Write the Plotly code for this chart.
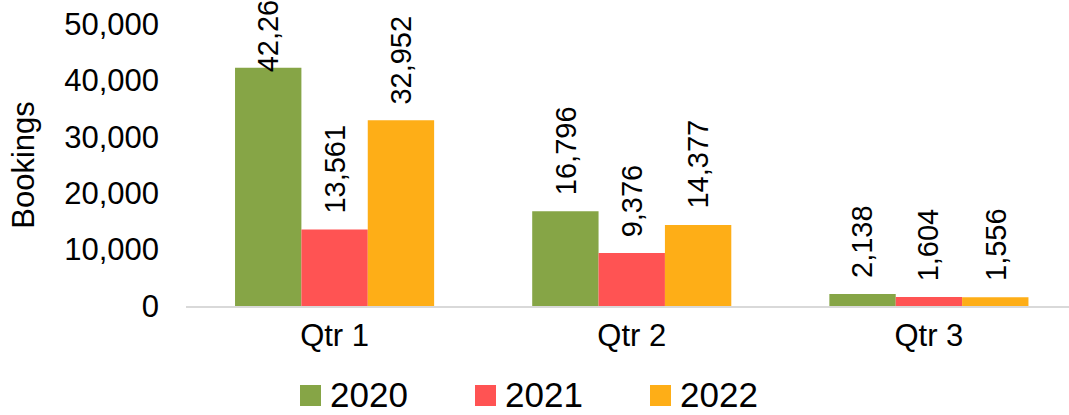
import plotly.graph_objects as go

categories = ["Qtr 1", "Qtr 2", "Qtr 3"]
series_names = ["2020", "2021", "2022"]
values_2020 = [42260, 16796, 2138]
values_2021 = [13561, 9376, 1604]
values_2022 = [32952, 14377, 1556]
y_ticks = [0, 10000, 20000, 30000, 40000, 50000]
y_tick_labels = ["0", "10,000", "20,000", "30,000", "40,000", "50,000"]

colors = ["#86A546", "#FF5353", "#FEAE17"]
all_values = [values_2020, values_2021, values_2022]

FONT = "Liberation Sans, Arial, sans-serif"
L, R, T, B = 186, 0, 24, 109
W, H = 1069, 415
BARGAP = 0.33

fig = go.Figure()
for name, vals, col in zip(series_names, all_values, colors):
    fig.add_trace(go.Bar(
        x=list(range(len(categories))), y=vals, name=name,
        marker=dict(color=col, line=dict(width=0)),
        showlegend=False,
    ))

# data labels
nseries = len(series_names)
bw = (1 - BARGAP) / nseries
annotations = []
for j, vals in enumerate(all_values):
    for i, v in enumerate(vals):
        shift = 14
        if i == 0 and j == 0:
            shift = -7
        annotations.append(dict(
            x=i + (j - (nseries - 1) / 2) * bw, y=v, xref="x", yref="y",
            text=f"{v:,}", textangle=-90, showarrow=False,
            xanchor="center", yanchor="bottom", yshift=shift,
            font=dict(family=FONT, size=29, color="#000000"),
        ))

# custom legend (large squares)
shapes = []
for k, (name, col) in enumerate(zip(series_names, colors)):
    sx = 300 + k * 175 - L
    shapes.append(dict(
        type="rect", xref="paper", yref="paper",
        xsizemode="pixel", ysizemode="pixel", xanchor=0, yanchor=0,
        x0=sx, x1=sx + 21, y0=-(385 - (H - B)), y1=-(406 - (H - B)),
        fillcolor=col, line=dict(width=0),
    ))
    annotations.append(dict(
        x=0, y=0, xref="paper", yref="paper",
        xshift=sx + 28, yshift=-(394 - (H - B)),
        text=name, showarrow=False, xanchor="left", yanchor="middle",
        font=dict(family=FONT, size=35, color="#000000"),
    ))

fig.update_layout(
    width=W, height=H,
    margin=dict(l=L, r=R, t=T, b=B, pad=0),
    barmode="group", bargap=BARGAP, bargroupgap=0,
    plot_bgcolor="white", paper_bgcolor="white",
    font=dict(family=FONT, size=31, color="#000000"),
    annotations=annotations, shapes=shapes,
    showlegend=False,
    xaxis=dict(
        tickmode="array", tickvals=list(range(len(categories))), ticktext=categories,
        range=[-0.5, 2.5 - 8.5 / 297.5],
        showline=True, linecolor="#D9D9D9", linewidth=1.5,
        showgrid=False, zeroline=False, ticks="", ticklabelstandoff=1,
        tickfont=dict(family=FONT, size=31, color="#000000"),
    ),
    yaxis=dict(
        range=[0, 50000], tickvals=y_ticks, ticktext=y_tick_labels,
        showgrid=False, zeroline=False, showline=False, ticks="",
        ticklabelstandoff=26,
        tickfont=dict(family=FONT, size=31, color="#000000"),
        title=dict(text="Bookings", standoff=20,
                   font=dict(family=FONT, size=31, color="#000000")),
    ),
)

fig.write_html("out.html")
